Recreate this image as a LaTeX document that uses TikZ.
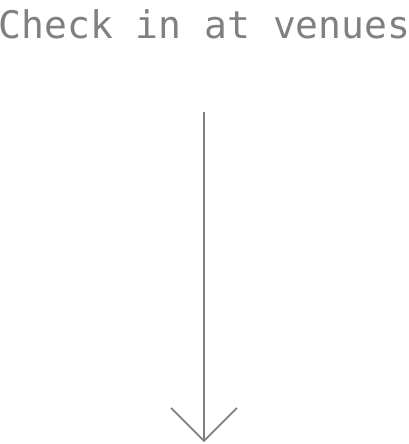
\documentclass[tikz,border=0pt]{standalone}
\usepackage{fontspec}
\setmonofont{DejaVu Sans Mono}
\usetikzlibrary{arrows.meta}
\definecolor{inkgray}{HTML}{808080}
\tikzset{x=1pt, y=-1pt,
  label/.style={text=inkgray, font=\ttfamily\fontsize{38}{38}\selectfont, inner sep=0pt},
  flow/.style={draw=inkgray, line width=1.6pt, -{Straight Barb[length=33pt,width=66pt,line width=1.6pt]}}}

\begin{document}
\begin{tikzpicture}
\useasboundingbox (0,0) rectangle (409,444);
\node[label, anchor=base] (title) at (204.5,38) {Check in at venues};
\coordinate (start) at (204,112);
\coordinate (tip) at (204,442);
\draw[flow] (start) -- (tip);
\end{tikzpicture}
\end{document}
